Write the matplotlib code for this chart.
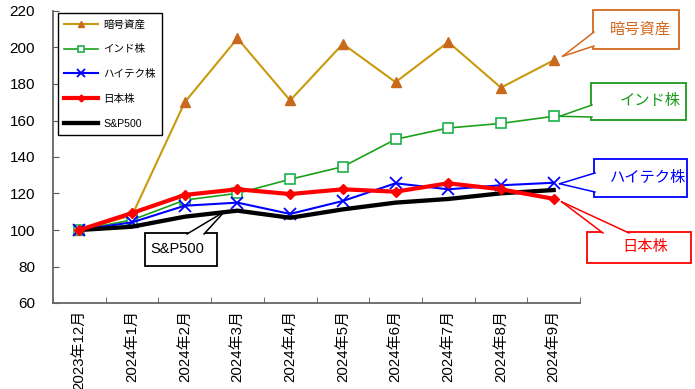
import matplotlib
matplotlib.use("Agg")
import matplotlib.pyplot as plt
from matplotlib.patches import Rectangle, Polygon
from matplotlib.lines import Line2D
from matplotlib.ticker import MultipleLocator, FixedLocator

plt.rcParams['font.family'] = ['Liberation Sans', 'Noto Sans CJK JP', 'DejaVu Sans']

months = ["2023年12月", "2024年1月", "2024年2月", "2024年3月", "2024年4月",
          "2024年5月", "2024年6月", "2024年7月", "2024年8月", "2024年9月"]
crypto = [100, 108, 170, 205, 171, 202, 181, 203, 178, 193]
india = [100, 105.5, 116.4, 120.1, 127.8, 134.7, 149.7, 155.9, 158.4, 162.3]
hitech = [100, 104.2, 113.3, 115.0, 108.8, 115.9, 125.6, 122.3, 124.5, 125.9]
japan = [100, 109.3, 119.2, 122.3, 119.7, 122.3, 121.0, 125.6, 122.3, 117.1]
sp500 = [100, 101.8, 107.3, 110.6, 106.7, 111.3, 115.0, 117.0, 120.1, 121.9]

W, H = 695, 389
fig = plt.figure(figsize=(W / 100, H / 100), dpi=100)
ax = fig.add_axes([53 / W, 1 - 303 / H, (580 - 53) / W, (303 - 11) / H])

x = list(range(len(months)))
ax.plot(x, crypto, color="#C99A0E", lw=1.5, marker="^", ms=7,
        mfc="#C8691C", mec="#C8691C", label="暗号資産", zorder=3)
ax.plot(x, india, color="#1BA11B", lw=1.2, marker="s", ms=7,
        mfc="white", mec="#1DB04C", mew=1.2, label="インド株", zorder=4)
ax.plot(x, hitech, color="#0000FF", lw=1.5, marker="x", ms=8,
        mew=1.3, label="ハイテク株", zorder=5)
ax.plot(x, sp500, color="black", lw=3.1, label="S&P500", zorder=6)
ax.plot(x, japan, color="#FF0000", lw=3.0, marker="D", ms=5,
        mfc="#FF0000", mec="#FF0000", label="日本株", zorder=7)

ax.set_xlim(-0.5, len(months) - 0.5)
ax.set_ylim(60, 220)
ax.yaxis.set_major_locator(MultipleLocator(20))
ax.set_xticks(x)
ax.set_xticklabels(months, rotation=90, fontsize=10.8)
ax.xaxis.set_minor_locator(FixedLocator([i + 0.5 for i in range(-1, len(months))]))
ax.tick_params(axis="x", which="major", length=0, pad=5)
ax.tick_params(axis="x", which="minor", direction="in", length=4, color="#555555")
ax.tick_params(axis="y", which="major", direction="in", length=4, color="#555555",
               labelsize=11, pad=13)
for s in ("top", "right"):
    ax.spines[s].set_visible(False)
for s in ("left", "bottom"):
    ax.spines[s].set_color("#666666")
    ax.spines[s].set_linewidth(1.3)

# legend in the order shown
handles, labels = ax.get_legend_handles_labels()
order = ["暗号資産", "インド株", "ハイテク株", "日本株", "S&P500"]
hmap = dict(zip(labels, handles))
leg = ax.legend([hmap[k] for k in order], order, loc="upper left",
                bbox_to_anchor=(5 / 527, 1 - 2 / 292), fontsize=7.6,
                labelspacing=1.4, handlelength=3.2, handletextpad=0.5,
                borderpad=0.6, borderaxespad=0, fancybox=False,
                edgecolor="black", framealpha=1, markerscale=0.7)
leg.get_frame().set_linewidth(1.0)


def fig_px(px, py):
    """Convert top-left pixel coordinates to figure fraction."""
    return px / W, 1 - py / H


def data_px(xi, yv):
    dx, dy = ax.transData.transform((xi, yv))
    return dx, H - dy


def callout(text, color, box, base, tip_pt, tip_off, fs=11, text_dx=0):
    x0, y0, x1, y1 = box
    fx0, fy0 = fig_px(x0, y1)
    rect = Rectangle((fx0, fy0), (x1 - x0) / W, (y1 - y0) / H,
                     transform=fig.transFigure, facecolor="white",
                     edgecolor=color, lw=1.3, zorder=10)
    fig.add_artist(rect)
    tx, ty = data_px(*tip_pt)
    tx += tip_off[0]
    ty += tip_off[1]
    (b1x, b1y), (b2x, b2y) = base
    poly = Polygon([fig_px(b1x, b1y), fig_px(tx, ty), fig_px(b2x, b2y)],
                   closed=True, transform=fig.transFigure, facecolor="white",
                   edgecolor="none", zorder=11)
    fig.add_artist(poly)
    for bx, by in ((b1x, b1y), (b2x, b2y)):
        p0 = fig_px(bx, by)
        p1 = fig_px(tx, ty)
        fig.add_artist(Line2D([p0[0], p1[0]], [p0[1], p1[1]],
                              transform=fig.transFigure, color=color,
                              lw=1.1, zorder=12))
    cx, cy = fig_px((x0 + x1) / 2 + text_dx, (y0 + y1) / 2)
    fig.text(cx, cy, text, color=color, fontsize=fs, ha="center",
             va="center", zorder=13)


last = len(months) - 1
callout("暗号資産", "#D2691E", (593, 10, 679, 49),
        ((594, 32), (594, 46)), (last, crypto[-1]), (9, -4), text_dx=4)
callout("インド株", "#1A9A1A", (591, 83, 686, 120),
        ((592, 105), (592, 117)), (last, india[-1]), (6, 0), text_dx=12)
callout("ハイテク株", "#0000FF", (594, 159, 687, 197),
        ((595, 173), (595, 192)), (last, hitech[-1]), (6, 1), text_dx=7)
callout("日本株", "#FF0000", (587, 232, 691, 263),
        ((603, 233), (629, 233)), (last, japan[-1]), (8, 3), text_dx=6)
callout("S&P500", "black", (145, 233, 217, 266),
        ((187, 234), (204, 234)), (3, sp500[3]), (-13, 1), fs=10.5, text_dx=-4)

fig.savefig("out.png", dpi=100)
